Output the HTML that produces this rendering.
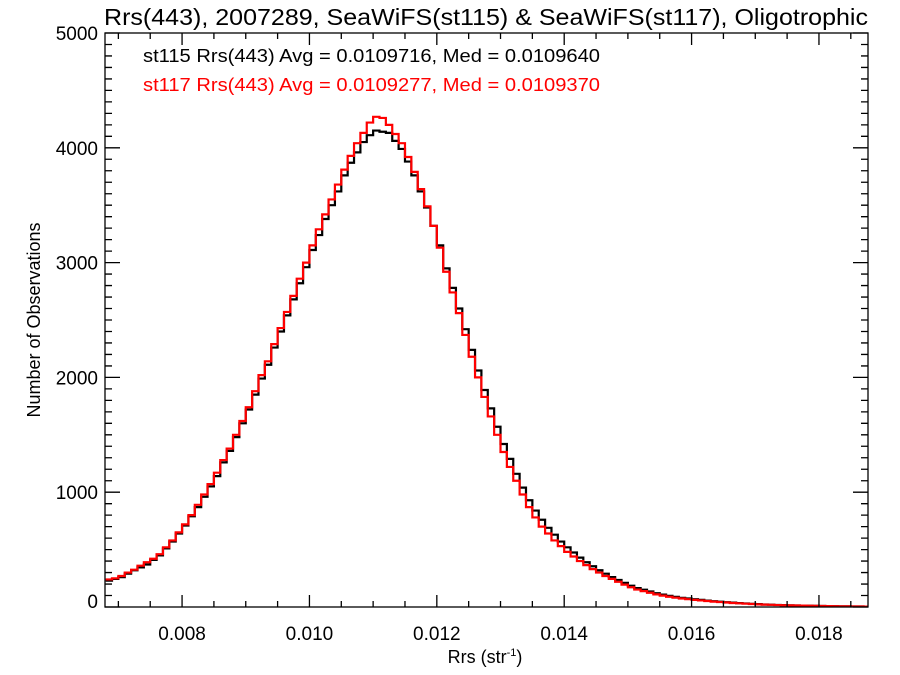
<!DOCTYPE html>
<html><head><meta charset="utf-8"><style>
html,body{margin:0;padding:0;background:#fff;}
svg{display:block;font-family:"Liberation Sans",Arial,sans-serif;}
</style></head><body>
<svg id="chart" width="900" height="675" viewBox="0 0 900 675" xmlns="http://www.w3.org/2000/svg">
<rect width="900" height="675" fill="#fff"/>
<text x="486" y="25" font-size="23" text-anchor="middle" textLength="764" lengthAdjust="spacingAndGlyphs">Rrs(443), 2007289, SeaWiFS(st115) &amp; SeaWiFS(st117), Oligotrophic</text>
<g id="marks"></g>
<g id="axes"></g>
<text x="143" y="62" font-size="18" textLength="457" lengthAdjust="spacingAndGlyphs">st115 Rrs(443) Avg = 0.0109716, Med = 0.0109640</text>
<text x="143" y="91" font-size="18" fill="#ff0000" textLength="457" lengthAdjust="spacingAndGlyphs">st117 Rrs(443) Avg = 0.0109277, Med = 0.0109370</text>
<text x="485" y="663" font-size="18" text-anchor="middle">Rrs (str<tspan font-size="11" dy="-7">-1</tspan><tspan dy="7">)</tspan></text>
<text transform="translate(40,320) rotate(-90)" font-size="18" text-anchor="middle">Number of Observations</text>
</svg>
<script>
const binStart = 0.0068;
const binWidth = 0.0001;
const st115Counts = [230,245,260,290,320,345,370,410,450,510,570,640,710,790,870,960,1050,1140,1260,1360,1480,1600,1720,1850,1990,2110,2260,2400,2540,2680,2820,2960,3110,3240,3380,3500,3620,3760,3870,3960,4050,4110,4150,4140,4130,4060,3990,3880,3760,3620,3480,3320,3150,2950,2780,2600,2420,2240,2060,1890,1730,1570,1420,1290,1160,1040,930,840,760,690,630,570,520,475,430,390,355,320,290,260,235,210,185,165,150,135,120,108,97,88,80,74,68,62,56,50,46,42,38,34,31,28,25,22,20,18,16,14,13,12,11,10,9,8,7,6,6,5,5,4];
const st117Counts = [240,250,270,300,325,360,390,420,460,520,580,650,720,800,890,980,1070,1170,1280,1380,1500,1620,1740,1880,2020,2140,2290,2430,2570,2710,2860,3000,3150,3290,3420,3550,3680,3810,3930,4040,4130,4220,4270,4260,4200,4120,4040,3920,3790,3640,3490,3320,3130,2920,2740,2560,2370,2180,2000,1830,1660,1500,1350,1220,1100,980,870,780,700,640,580,530,480,440,400,365,330,300,270,245,220,195,172,152,138,124,110,99,89,81,74,68,62,57,52,47,43,39,35,32,29,26,23,21,19,17,15,14,13,12,11,10,9,8,7,6,6,5,5,4];
const xTicks = [0.008,0.010,0.012,0.014,0.016,0.018];
const xTickLabels = ["0.008","0.010","0.012","0.014","0.016","0.018"];
const yTicks = [0,1000,2000,3000,4000,5000];
const yTickLabels = ["0","1000","2000","3000","4000","5000"];

const X0=105, X1=868, Y0=607, Y1=33;
const xMin=0.00679, xMax=0.01877, yMin=0, yMax=5000;
const NS="http://www.w3.org/2000/svg";
function xs(v){return X0+(v-xMin)/(xMax-xMin)*(X1-X0);}
function ys(v){return Y0-(v-yMin)/(yMax-yMin)*(Y0-Y1);}
function mk(tag,attrs,parent){const e=document.createElementNS(NS,tag);for(const k in attrs)e.setAttribute(k,attrs[k]);parent.appendChild(e);return e;}

const marks=document.getElementById('marks');
const clip=mk('clipPath',{id:'pc'},marks);
mk('rect',{x:X0,y:Y1,width:X1-X0,height:Y0-Y1},clip);
function stepPath(counts){
  let d='';
  counts.forEach((c,i)=>{
    const a=xs(binStart+i*binWidth), b=xs(binStart+(i+1)*binWidth), y=ys(c);
    d+=(i===0?'M':'L')+a.toFixed(2)+','+y.toFixed(2)+'L'+b.toFixed(2)+','+y.toFixed(2);
  });
  return d;
}
const p1=mk('path',{d:stepPath(st115Counts),fill:'none',stroke:'#000','stroke-width':2.2,'clip-path':'url(#pc)'},marks);


const p2=mk('path',{d:stepPath(st117Counts),fill:'none',stroke:'#ff0000','stroke-width':2.2,'clip-path':'url(#pc)'},marks);



const axes=document.getElementById('axes');
const frame=mk('rect',{x:X0,y:Y1,width:X1-X0,height:Y0-Y1,fill:'none',stroke:'#000','stroke-width':1.3},axes);


let td='';
for(let v=0.0070;v<=xMax+1e-9;v+=0.0005){
  const x=xs(v);
  const major=xTicks.some(t=>Math.abs(t-v)<1e-7);
  const L=major?12:6;
  td+=`M${x},${Y0}v${-L}M${x},${Y1}v${L}`;
}
for(let v=0;v<=yMax+1e-6;v+=100){
  const y=ys(v);
  const major=yTicks.some(t=>Math.abs(t-v)<1e-6);
  const L=major?15:7;
  td+=`M${X0},${y}h${L}M${X1},${y}h${-L}`;
}
const ticks=mk('path',{d:td,stroke:'#000','stroke-width':1.3,fill:'none'},axes);


xTicks.forEach((t,i)=>{
  const tx=mk('text',{x:xs(t),y:640,'font-size':19,'text-anchor':'middle'},axes);
  tx.textContent=xTickLabels[i];
  
  
});
yTicks.forEach((t,i)=>{
  const yy=i===0?ys(t)+1:ys(t)+7;
  const tx=mk('text',{x:X0-7,y:yy,'font-size':19,'text-anchor':'end'},axes);
  tx.textContent=yTickLabels[i];
  
  
});
</script>
</body></html>
